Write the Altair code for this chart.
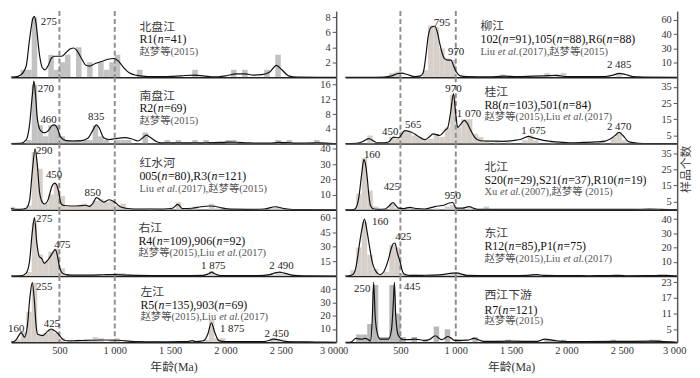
import altair as alt
import pandas as pd

H = 67
W_LEFT, W_RIGHT = 329, 336
LEFT_START = 62.5           # left column begins just past age 0 (as in the cropped original)
FONT = "Liberation Serif, Noto Sans CJK SC"
AGE_MAX = 3000
BIN = 50
X_TITLE = "年龄(Ma)"
Y_TITLE = "样品个数"
X_TICKS_LEFT = [500, 1000, 1500, 2000, 2500, 3000]
X_TICKS_RIGHT = [0, 500, 1000, 1500, 2000, 2500, 3000]
DASH_AGES = [500, 1000]

# ---------------- 北盘江 ----------------
bpj_bins = [150, 200, 250, 400, 450, 500, 550, 650, 750, 850, 900, 950, 1000, 1200, 1700, 2050, 2150, 2350, 2450]
bpj_counts = [1, 1, 8, 3, 1, 2, 3, 4, 2, 2, 1, 2, 3, 1, 1, 1, 1, 1, 3]
bpj_cx = [0, 100, 150, 200, 230, 260, 275, 290, 320, 345, 370, 400, 430, 460, 490, 520, 560, 600, 630, 660, 700, 740, 770, 820, 880, 940, 990, 1030, 1080, 1130, 1200, 1300, 1450, 1600, 1720, 1800, 1900, 2000, 2100, 2180, 2250, 2330, 2400, 2460, 2510, 2570, 2650, 3000]
bpj_cy = [0, 0.05, 0.3, 1.5, 5, 7.8, 8.1, 7, 3, 1.3, 1.0, 1.6, 2.6, 2.8, 2.8, 2.8, 3.3, 3.8, 3.9, 3.5, 2.5, 1.6, 1.5, 1.8, 2.1, 2.4, 2.5, 2.2, 1.3, 0.6, 0.25, 0.1, 0.1, 0.2, 0.3, 0.2, 0.05, 0.2, 0.45, 0.45, 0.3, 0.35, 0.7, 1.6, 1.0, 0.2, 0.02, 0]

# ---------------- 南盘江 ----------------
npj_bins = [200, 250, 300, 350, 400, 450, 500, 550, 600, 650, 700, 750, 800, 850, 900, 1000, 1050, 1100, 1250, 1450, 1550, 1700, 1800, 2000, 2050, 2450, 2550, 2800]
npj_counts = [1, 16, 5, 2, 5, 5, 2, 1, 1, 1, 1, 1, 5, 2, 1, 1, 1, 1, 3, 1, 1, 1, 1, 1, 1, 1, 1, 1]
npj_cx = [0, 150, 200, 230, 255, 270, 285, 300, 330, 365, 400, 430, 455, 480, 510, 560, 620, 700, 760, 800, 835, 860, 900, 950, 1000, 1090, 1150, 1210, 1250, 1285, 1320, 1380, 1420, 1500, 1650, 1800, 1950, 2030, 2100, 2200, 2300, 2400, 2480, 2550, 2650, 2800, 2850, 2950, 3000]
npj_cy = [0, 0.05, 1, 5, 13, 17, 13, 7, 3.5, 2.9, 3.5, 4.8, 5.1, 4.3, 1.8, 0.8, 0.7, 0.8, 1.5, 3.5, 5.1, 4.2, 1.6, 1.1, 1.3, 1.6, 1.3, 0.7, 1.5, 2.3, 1.7, 0.5, 0.2, 0.2, 0.2, 0.2, 0.3, 0.4, 0.35, 0.2, 0.1, 0.1, 0.3, 0.25, 0.1, 0.2, 0.2, 0.05, 0]

# ---------------- 红水河 ----------------
hsh_bins = [50, 200, 250, 300, 350, 400, 450, 500, 550, 600, 650, 700, 750, 800, 850, 900, 950, 1000, 1050, 1100, 1300, 1450, 1550, 1600, 1700, 1850, 1900, 2400, 2450, 2500, 2550]
hsh_counts = [2, 3, 38, 27, 4, 10, 17, 9, 2, 2, 2, 4, 3, 6, 7, 5, 6, 3, 4, 1, 1, 1, 5, 1, 2, 4, 1, 1, 2, 1, 1]
hsh_cx = [0, 30, 60, 100, 150, 200, 230, 255, 280, 300, 320, 345, 365, 400, 430, 460, 490, 515, 540, 600, 650, 700, 735, 770, 800, 835, 870, 900, 950, 1000, 1050, 1100, 1180, 1300, 1450, 1520, 1570, 1610, 1700, 1780, 1860, 1900, 1950, 2050, 2200, 2350, 2450, 2530, 2600, 2700, 3000]
hsh_cy = [0.5, 1.2, 0.8, 0.3, 0.3, 1, 6, 25, 40, 30, 12, 5, 3.8, 7, 15, 17.5, 13, 4, 2.8, 2.5, 2.5, 2.7, 3, 2.2, 4, 8, 6.5, 5, 6.6, 5, 2, 1, 0.5, 0.5, 0.5, 1, 3.6, 0.8, 1, 2, 2.5, 2.3, 1.5, 0.4, 0.3, 0.5, 2, 0.8, 0.2, 0.05, 0]

# ---------------- 右江 ----------------
yj_bins = [150, 200, 250, 300, 350, 400, 450, 500, 550, 600, 650, 750, 850, 950, 1000, 1050, 1100, 1200, 1400, 1850, 1900, 2450, 2500]
yj_counts = [1, 4, 55, 22, 15, 25, 28, 8, 2, 1, 1, 1, 1, 2, 3, 3, 2, 1, 1, 5, 1, 4, 2]
yj_cx = [0, 150, 200, 230, 255, 275, 295, 318, 340, 363, 400, 440, 462, 480, 500, 527, 560, 600, 700, 800, 900, 1000, 1100, 1200, 1400, 1600, 1800, 1850, 1875, 1900, 1950, 2100, 2300, 2400, 2460, 2490, 2530, 2600, 2700, 3000]
yj_cy = [0, 0.2, 3, 15, 45, 60, 35, 20, 18, 13, 17, 24, 27, 22, 10, 3, 1.5, 1, 1, 1, 1.3, 1.5, 1, 0.7, 0.5, 0.5, 0.6, 2.5, 4, 2.5, 0.5, 0.4, 0.4, 1.5, 3.5, 4, 3, 1, 0.2, 0]

# ---------------- 左江 ----------------
zj_bins = [100, 150, 200, 250, 300, 350, 400, 450, 500, 600, 650, 700, 750, 800, 850, 950, 1000, 1200, 1350, 1700, 1800, 1850, 1900, 1950, 2400, 2450, 2500, 2650, 2750]
zj_counts = [2, 8, 23, 45, 6, 7, 10, 7, 3, 1, 2, 1, 2, 4, 3, 2, 3, 1, 1, 1, 2, 17, 3, 3, 3, 2, 2, 1, 1]
zj_cx = [0, 80, 110, 140, 155, 170, 185, 210, 235, 255, 275, 290, 305, 350, 390, 425, 450, 482, 540, 590, 650, 700, 765, 885, 1030, 1180, 1400, 1600, 1660, 1700, 1730, 1780, 1810, 1840, 1873, 1905, 1940, 2000, 2200, 2340, 2400, 2430, 2470, 2550, 2700, 2800, 3000]
zj_cy = [0, 0.3, 2, 6, 7.3, 5.5, 3.7, 12, 35, 45, 30, 12, 6, 5, 8, 10, 9, 7, 1.7, 1, 1.2, 1.3, 1.5, 1.7, 1.5, 0.5, 0.3, 0.4, 0.5, 1.2, 0.5, 0.8, 1.5, 6, 14.6, 7, 1.2, 0.5, 0.4, 0.5, 1.5, 2.4, 2, 0.5, 0.3, 0.1, 0]

# ---------------- 柳江 ----------------
lj_bins = [400, 450, 650, 700, 750, 800, 850, 900, 950, 1400, 1800, 1900, 1950, 2450]
lj_counts = [3, 4, 1, 5, 36, 35, 20, 13, 12, 2, 3, 2, 3, 3]
lj_cx = [0, 200, 350, 420, 470, 512, 560, 630, 680, 705, 730, 750, 780, 810, 835, 854, 880, 898, 930, 958, 980, 1003, 1040, 1100, 1300, 1434, 1550, 1700, 1800, 1910, 2000, 2200, 2350, 2420, 2476, 2530, 2600, 2700, 3000]
lj_cy = [0, 0, 0.2, 1, 2.5, 2.9, 2, 0.5, 1, 3, 15, 28, 35, 35.5, 31, 24, 16, 13, 12, 12, 8, 4, 1, 0.5, 0.3, 0.8, 0.5, 0.8, 1.0, 1.3, 0.5, 0.5, 0.6, 1.5, 2.7, 2, 0.5, 0.2, 0]

# ---------------- 桂江 ----------------
gj_bins = [200, 400, 450, 500, 550, 600, 650, 700, 750, 800, 850, 900, 950, 1000, 1050, 1100, 1150, 1200, 1250, 1350, 1450, 1600, 1650, 1700, 1850, 2300, 2400, 2450, 2500]
gj_counts = [5, 4, 3, 8, 7, 5, 4, 2, 3, 6, 4, 10, 30, 10, 15, 15, 6, 4, 2, 1, 1, 2, 5, 2, 1, 1, 4, 7, 2]
gj_cx = [0, 100, 150, 214, 260, 289, 350, 393, 437, 482, 541, 601, 660, 720, 760, 795, 854, 900, 928, 955, 979, 1000, 1018, 1045, 1077, 1100, 1137, 1170, 1196, 1260, 1345, 1434, 1530, 1583, 1657, 1700, 1791, 1900, 2030, 2150, 2268, 2350, 2387, 2440, 2476, 2510, 2565, 2650, 2750, 3000]
gj_cy = [0, 0.2, 1, 3, 1.5, 0.4, 0.5, 1, 4, 3.5, 8, 7, 4.5, 2.4, 4, 6, 5, 8, 10, 20, 31, 18, 10, 12, 14.4, 13, 8, 4, 2.4, 1.6, 1.5, 1.4, 2, 2.5, 4.4, 3.5, 2, 1, 0.5, 0.7, 1, 1.5, 2.5, 5, 7, 5, 1, 0.2, 0.05, 0]

# ---------------- 北江 ----------------
bj_bins = [100, 150, 200, 250, 400, 450, 550, 800, 900, 950, 1100, 1250]
bj_counts = [10, 32, 12, 2, 4, 1, 1, 1, 2, 3, 1, 2]
bj_cx = [0, 60, 90, 125, 150, 170, 185, 200, 215, 230, 260, 300, 363, 400, 432, 460, 482, 530, 586, 640, 720, 810, 900, 940, 973, 1003, 1060, 1122, 1160, 1200, 1400, 1600, 1800, 2000, 2200, 2400, 2600, 2750, 2850, 3000]
bj_cy = [0, 0, 0.5, 8, 22, 31, 28, 20, 9, 2.5, 0.5, 0.3, 0.5, 2.5, 4.5, 2.5, 1, 0.8, 1.5, 0.8, 0.5, 2, 3, 4.2, 4.5, 1, 1, 2, 1, 0.3, 0.2, 0.2, 0.2, 0.2, 0.2, 0.3, 0.3, 0.4, 0.3, 0]

# ---------------- 东江 ----------------
dj_bins = [50, 100, 150, 200, 250, 300, 350, 400, 450, 500, 600, 950, 1000, 1050, 1700]
dj_counts = [4, 20, 38, 15, 5, 1, 3, 22, 20, 2, 1, 2, 2, 1, 1]
dj_cx = [0, 36, 70, 95, 115, 135, 155, 175, 195, 220, 245, 270, 300, 318, 350, 393, 420, 440, 452, 470, 497, 520, 541, 600, 690, 850, 1003, 1100, 1300, 1500, 1650, 1732, 1800, 2000, 2200, 2400, 2480, 2550, 2800, 2900, 3000]
dj_cy = [0, 0.2, 1, 5, 14, 25, 34, 40, 33, 21, 10, 4.4, 1.5, 1, 3, 12, 20, 23, 23, 17, 10, 3, 1, 0.4, 0.5, 0.8, 2.2, 0.5, 0.3, 0.3, 0.5, 1, 0.4, 0.3, 0.2, 0.3, 0.5, 0.2, 0.3, 0.5, 0]

# ---------------- 西江下游 ----------------
xj_bins = [100, 150, 200, 250, 300, 350, 400, 450, 500, 600, 700, 800, 900, 1000, 1150, 1450, 1800, 1850, 1950, 2400, 2750, 2800]
xj_counts = [3, 3, 7, 22, 2, 2, 22, 11, 2, 2, 1, 6, 5, 1, 2, 1, 1, 1, 1, 1, 1, 1]
xj_cx = [0, 36, 70, 95, 125, 155, 184, 210, 229, 245, 258, 272, 290, 318, 393, 420, 436, 446, 458, 482, 527, 580, 631, 720, 770, 815, 850, 869, 900, 928, 960, 988, 1107, 1167, 1200, 1256, 1494, 1732, 1806, 1860, 1910, 2000, 2476, 2774, 2850, 3000]
xj_cy = [0, 0, 0.5, 1.5, 1.3, 1.2, 1.5, 1, 0.5, 8, 23, 10, 3.7, 1.2, 1.2, 5, 15, 23, 10, 2.5, 1, 1, 1.2, 0.7, 1.2, 2.5, 1.5, 1, 1.5, 2.2, 1.5, 0.7, 0.8, 1.5, 1, 0.3, 0.4, 0.3, 1.2, 0.9, 0.5, 0.2, 0.3, 0.4, 0.3, 0]

GRAY = "#c2c2c2"
BEIGE = "#d7cfca"
DARKGRAY = "#b9b9b9"

PANELS = [
    dict(name="北盘江", side="L", bins=bpj_bins, counts=bpj_counts, cx=bpj_cx, cy=bpj_cy, color=GRAY,
         ymax=8.8, yticks=[2, 4, 6, 8],
         peaks=[("275", 405, 7.3)],
         info=["北盘江", "R1(*n*=41)", "赵梦等(2015)"], info_x=1223, info_y=[16, 29, 42]),
    dict(name="柳江", side="R", bins=lj_bins, counts=lj_counts, cx=lj_cx, cy=lj_cy, color=BEIGE,
         ymax=46, yticks=[10, 20, 30, 40], ylabels={20: "30", 30: "40", 40: "60"},
         peaks=[("795", 875, 37.8), ("970", 1003, 17.8), ("2 485", 2476, 8.4)],
         info=["柳江", "102(*n*=91),105(*n*=88),R6(*n*=88)", "Liu *et al.*(2017),赵梦等(2015)"], info_x=1223, info_y=[15, 29, 42]),
    dict(name="南盘江", side="L", bins=npj_bins, counts=npj_counts, cx=npj_cx, cy=npj_cy, color=GRAY,
         ymax=18, yticks=[4, 8, 12, 16],
         peaks=[("270", 378, 14.7), ("460", 402, 6.4), ("835", 833, 7.1)],
         info=["南盘江", "R2(*n*=69)", "赵梦等(2015)"], info_x=1223, info_y=[19, 32, 45]),
    dict(name="桂江", side="R", bins=gj_bins, counts=gj_counts, cx=gj_cx, cy=gj_cy, color=BEIGE,
         ymax=41, yticks=[5, 15, 25, 35],
         peaks=[("970", 979, 33.6), ("1 070", 1120, 18), ("450", 408, 7), ("565", 616, 11.4), ("1 675", 1703, 7.6), ("2 470", 2476, 10.4)],
         info=["桂江", "R8(*n*=103),501(*n*=84)", "赵梦等(2015),Liu *et al.*(2017)"], info_x=1259, info_y=[15, 29, 41]),
    dict(name="红水河", side="L", bins=hsh_bins, counts=hsh_counts, cx=hsh_cx, cy=hsh_cy, color=BEIGE,
         ymax=43.5, yticks=[10, 20, 30, 40],
         peaks=[("290", 363, 38.3), ("450", 452, 22.9), ("850", 801, 10.8)],
         info=["红水河", "005(*n*=80),R3(*n*=121)", "Liu *et al.*(2017),赵梦等(2015)"], info_x=1223, info_y=[20, 33.5, 47]),
    dict(name="北江", side="R", bins=bj_bins, counts=bj_counts, cx=bj_cx, cy=bj_cy, color=BEIGE,
         ymax=41, yticks=[5, 15, 25, 35],
         peaks=[("160", 244, 33.9), ("425", 422, 13.9), ("950", 973, 8.4)],
         info=["北江", "S20(*n*=29),S21(*n*=37),R10(*n*=19)", "Xu *et al.*(2007),赵梦等 (2015)"], info_x=1259, info_y=[24.5, 38, 50.5],
         ytitle=True),
    dict(name="右江", side="L", bins=yj_bins, counts=yj_counts, cx=yj_cx, cy=yj_cy, color=BEIGE,
         ymax=68, yticks=[15, 30, 45, 60],
         peaks=[("275", 363, 58.3), ("475", 527, 32.3), ("1 875", 1890, 10.7), ("2 490", 2506, 10.7)],
         info=["右江", "R4(*n*=109),906(*n*=92)", "赵梦等(2015),Liu *et al.*(2017)"], info_x=1214, info_y=[19, 32.5, 45]),
    dict(name="东江", side="R", bins=dj_bins, counts=dj_counts, cx=dj_cx, cy=dj_cy, color=BEIGE,
         ymax=46.5, yticks=[10, 20, 30, 40],
         peaks=[("160", 318, 37.8), ("425", 527, 27.3)],
         info=["东江", "R12(*n*=85),P1(*n*=75)", "赵梦等(2015),Liu *et al.*(2017)"], info_x=1259, info_y=[24, 37.5, 50.5]),
    dict(name="左江", side="L", bins=zj_bins, counts=zj_counts, cx=zj_cx, cy=zj_cy, color=BEIGE,
         ymax=50, yticks=[10, 20, 30, 40],
         peaks=[("255", 363, 42), ("160", 110, 9.8), ("425", 432, 13.9), ("1 875", 2060, 9.8), ("2 450", 2462, 6.1)],
         info=["左江", "R5(*n*=135),903(*n*=69)", "赵梦等(2015),Liu *et al.*(2017)"], info_x=1232, info_y=[17, 30, 42.5],
         bottom=True),
    dict(name="西江下游", side="R", bins=xj_bins, counts=xj_counts, cx=xj_cx, cy=xj_cy, color=DARKGRAY,
         ymax=25.4, yticks=[5, 11, 17, 23],
         peaks=[("250", 155, 20.4), ("445", 607, 21.2)],
         info=["西江下游", "R7(*n*=121)", "赵梦等(2015)"], info_x=1259, info_y=[20, 35, 47],
         bottom=True),
]

# approximate advance widths (em) for Liberation Serif
WID = {"(": .333, ")": .333, "=": .564, ",": .25, ".": .25, " ": .25, "R": .667, "S": .556,
       "P": .556, "L": .611, "X": .722, "i": .278, "u": .5, "e": .444, "t": .278, "a": .444,
       "l": .278, "n": .5}


def text_width(s, size, italic):
    w = 0.0
    for ch in s:
        if ord(ch) > 0x2E80:
            w += 1.0
        elif italic and ch == "a":
            w += 0.5
        else:
            w += WID.get(ch, 0.5)
    return w * size


def seg_parse(s):
    return [(p, i % 2 == 1) for i, p in enumerate(s.split("*")) if p]


LINE_SIZE = [12, 12, 10.5]
LINE_COLOR = ["#3a3a3a", "#111111", "#555555"]
YS = H / 68.5  # reference-pixel to panel-pixel factor


def make_panel(p):
    ymax = p["ymax"]
    bottom = p.get("bottom", False)
    left = p["side"] == "L"
    W = W_LEFT if left else W_RIGHT
    x0 = LEFT_START if left else 0
    age_per_px = (AGE_MAX - x0) / W

    xscale = alt.Scale(domain=[x0, AGE_MAX], nice=False, zero=False)
    yscale = alt.Scale(domain=[0, ymax], nice=False)
    if bottom:
        xaxis = alt.Axis(values=X_TICKS_LEFT if left else X_TICKS_RIGHT, labels=True, ticks=False,
                         labelExpr="replace(format(datum.value, ','), ',', ' ')",
                         labelOffset={"expr": "datum.value == 3000 ? %d : 0" % (-5 if left else -3)},
                         labelFontSize=10.5, labelColor="#333", labelPadding=3, labelFlush=False,
                         labelOverlap=False, domainColor="#222", domainWidth=1.5, grid=False,
                         title=X_TITLE, titleFontSize=12, titleFontWeight="normal", titleColor="#333",
                         titlePadding=6)
    else:
        xaxis = alt.Axis(labels=False, ticks=False, domainColor="#222", domainWidth=1.5, grid=False, title=None)
    yaxis_kw = dict(orient="left", offset=-W, values=p["yticks"], tickSize=4, tickColor="#555",
                    domainColor="#555", domainWidth=1.5, labelFontSize=10.5, labelColor="#333",
                    labelPadding=2, grid=False, title=None)
    if "ylabels" in p:
        expr = "datum.label"
        for v, lab in p["ylabels"].items():
            expr = f"datum.value == {v} ? '{lab}' : ({expr})"
        yaxis_kw["labelExpr"] = expr
    yaxis = alt.Axis(**yaxis_kw)

    def X(f):
        return alt.X(f, type="quantitative", scale=xscale, axis=xaxis)

    def Y(f):
        return alt.Y(f, type="quantitative", scale=yscale, axis=yaxis)

    bars_df = pd.DataFrame({"s": p["bins"], "c": p["counts"]})
    bars_df["e"] = bars_df["s"] + BIN
    bars = alt.Chart(bars_df).mark_bar(color=p["color"], clip=True).encode(
        x=X("s"), x2="e", y=Y("c"), y2=alt.datum(0))

    rules = alt.Chart(pd.DataFrame({"a": DASH_AGES})).mark_rule(
        color="#8f8f8f", strokeDash=[5, 3], strokeWidth=2).encode(x=X("a"))

    curve = alt.Chart(pd.DataFrame({"a": p["cx"], "v": p["cy"]})).mark_line(
        color="#111", strokeWidth=1.2, interpolate="monotone", clip=True).encode(x=X("a"), y=Y("v"))

    pk_df = pd.DataFrame(p["peaks"], columns=["t", "a", "v"])
    peaks = alt.Chart(pk_df).mark_text(fontSize=11, color="#222", align="center", baseline="middle",
                                       font=FONT).encode(x=X("a"), y=Y("v"), text="t:N")

    rows = []
    for li, (line, py) in enumerate(zip(p["info"], p["info_y"])):
        size = LINE_SIZE[li]
        a = p["info_x"]
        py = py * YS
        for txt, it in seg_parse(line):
            rows.append(dict(a=a, v=(1 - py / H) * ymax, t=txt, it=it, sz=size, col=LINE_COLOR[li]))
            a += (text_width(txt, size, it) + 0.4) * age_per_px
    info_df = pd.DataFrame(rows)
    base = alt.Chart(info_df).encode(x=X("a"), y=Y("v"), text="t:N",
                                     size=alt.Size("sz:Q", scale=None),
                                     color=alt.Color("col:N", scale=None))
    info_n = base.mark_text(align="left", baseline="middle", font=FONT).transform_filter("!datum.it")
    info_i = base.mark_text(align="left", baseline="middle", font=FONT, fontStyle="italic").transform_filter("datum.it")

    layers = [bars, rules, curve, peaks, info_n, info_i]
    if p.get("ytitle"):
        yt = alt.Chart(pd.DataFrame({"t": [Y_TITLE]})).mark_text(
            angle=270, fontSize=12, color="#444", font=FONT, align="center", baseline="middle").encode(
            text="t:N", x=alt.value(W + 9), y=alt.value(26))
        layers.append(yt)
    return alt.layer(*layers).properties(width=W, height=H)


charts = [make_panel(p) for p in PANELS]
chart = alt.concat(*charts, columns=2, spacing={"row": 0, "column": 9}, bounds="flush", padding=0)
chart = chart.configure_view(stroke=None).configure_axis(labelFont=FONT, titleFont=FONT).configure_text(font=FONT)

chart.save("out.html", embed_options={"renderer": "svg", "actions": False})
